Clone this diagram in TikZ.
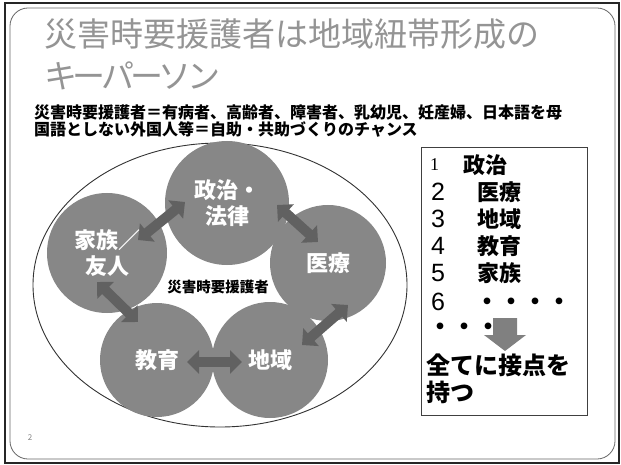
\documentclass[tikz,border=0pt]{standalone}
\usepackage{fontspec}
\setmainfont{Noto Sans CJK JP}
\newfontfamily\arialf{Liberation Sans}
\newfontfamily\timesf{Liberation Serif}
\usetikzlibrary{arrows.meta,shapes.geometric,calc}
\begin{document}
\begin{tikzpicture}[x=1pt,y=-1pt,
  bubble/.style={circle, fill=black!47, inner sep=0pt},
  bubtext/.style={text=white, font=\fontsize{22}{26}\selectfont\bfseries, align=center, inner sep=0pt},
  link/.style={draw=black!62, line width=10pt, {Triangle[length=12pt,width=23pt]}-{Triangle[length=12pt,width=23pt]}},
  titletext/.style={anchor=west, inner sep=0pt, text=black!42, font=\fontsize{33}{33}\selectfont},
  subtext/.style={anchor=west, inner sep=0pt, font=\fontsize{16}{16}\selectfont\bfseries},
  listnum/.style={anchor=west, inner sep=0pt, font=\fontsize{25}{25}\selectfont\arialf},
  listtext/.style={anchor=west, inner sep=0pt, font=\fontsize{22}{22}\selectfont\bfseries},
  bigtext/.style={anchor=west, inner sep=0pt, font=\fontsize{24}{24}\selectfont\bfseries}]
\useasboundingbox (0,0) rectangle (621,465);
\fill[white] (0,0) rectangle (621,465);
% frames
\draw[black!85, line width=1.6pt] (5,3) rectangle (619,463);
\draw[black!60, line width=0.8pt, rounded corners=18pt] (10,8) rectangle (615,459);
% title
\node[titletext] (t1) at (44,34) {災害時要援護者は地域紐帯形成の};
\node[titletext, font=\fontsize{33}{33}\selectfont\addfontfeature{LetterSpace=-13}] (t2) at (44,76) {キーパーソン};
% subtitle
\node[subtext] (s1) at (34,112) {災害時要援護者＝有病者、高齢者、障害者、乳幼児、妊産婦、日本語を母};
\node[subtext] (s2) at (34,129) {国語としない外国人等＝自助・共助づくりのチャンス};
% ellipse
\node[ellipse, draw=black!80, line width=0.9pt, minimum width=374pt, minimum height=284pt, inner sep=0pt] (ring) at (220,285) {};
% circles
\node[bubble, minimum size=124pt] (pol) at (227,203) {};
\node[bubble, minimum size=120pt] (fam) at (107,253) {};
\node[bubble, minimum size=116pt] (med) at (328,263) {};
\node[bubble, minimum size=114pt] (edu) at (157,360) {};
\node[bubble, minimum size=116pt] (reg) at (270,360) {};
% arrows
\draw[link] ($(fam)+(31,-13)$) -- ($(pol)+(-42,-1)$);
\draw[link] ($(pol)+(50,2)$) -- ($(med)+(-10,-21)$);
\draw[link] ($(reg)+(32,-15)$) -- ($(med)+(20,42)$);
\draw[link] ($(edu)+(30,2)$) -- ($(reg)+(-28,2)$);
\draw[link] ($(fam)+(-10,29)$) -- ($(edu)+(-19,-38)$);
% labels
\node[bubtext] (polt) at (pol) {政治・\\法律};
\node[bubtext] (famt) at (fam) {家族／\\友人};
\node[bubtext] (medt) at (med) {医療};
\node[bubtext] (edut) at (edu) {教育};
\node[bubtext] (regt) at (reg) {地域};
\node[inner sep=0pt, font=\fontsize{14.5}{14.5}\selectfont\bfseries] (core) at (218,287) {災害時要援護者};
% list box
\node[draw=black!75, line width=0.8pt, minimum width=166pt, minimum height=268pt, anchor=north west, inner sep=0pt] (box) at (421,147) {};
\node[anchor=west, inner sep=0pt, font=\fontsize{18}{18}\selectfont\timesf] (n1) at (430,165) {1};
\node[listtext] (l1) at (463,165) {政治};
\node[listnum] (n2) at (431,192) {2};
\node[listtext] (l2) at (477,192) {医療};
\node[listnum] (n3) at (431,219) {3};
\node[listtext] (l3) at (477,219) {地域};
\node[listnum] (n4) at (431,246) {4};
\node[listtext] (l4) at (477,246) {教育};
\node[listnum] (n5) at (431,273) {5};
\node[listtext] (l5) at (477,273) {家族};
\node[listnum] (n6) at (431,302) {6};
\node[bigtext] (d6) at (475,304) {・・・・};
\node[bigtext] (d7) at (428,329) {・・・};
\fill[black!50] (493,318) -- (517,318) -- (517,335) -- (526,335) -- (505,351) -- (484,335) -- (493,335) -- cycle;
\node[bigtext] (c1) at (426,365) {全てに接点を};
\node[bigtext] (c2) at (426,392) {持つ};
% page number
\node[inner sep=0pt, text=black!50, font=\fontsize{8}{8}\selectfont] (pg) at (30,438) {2};
\end{tikzpicture}
\end{document}
